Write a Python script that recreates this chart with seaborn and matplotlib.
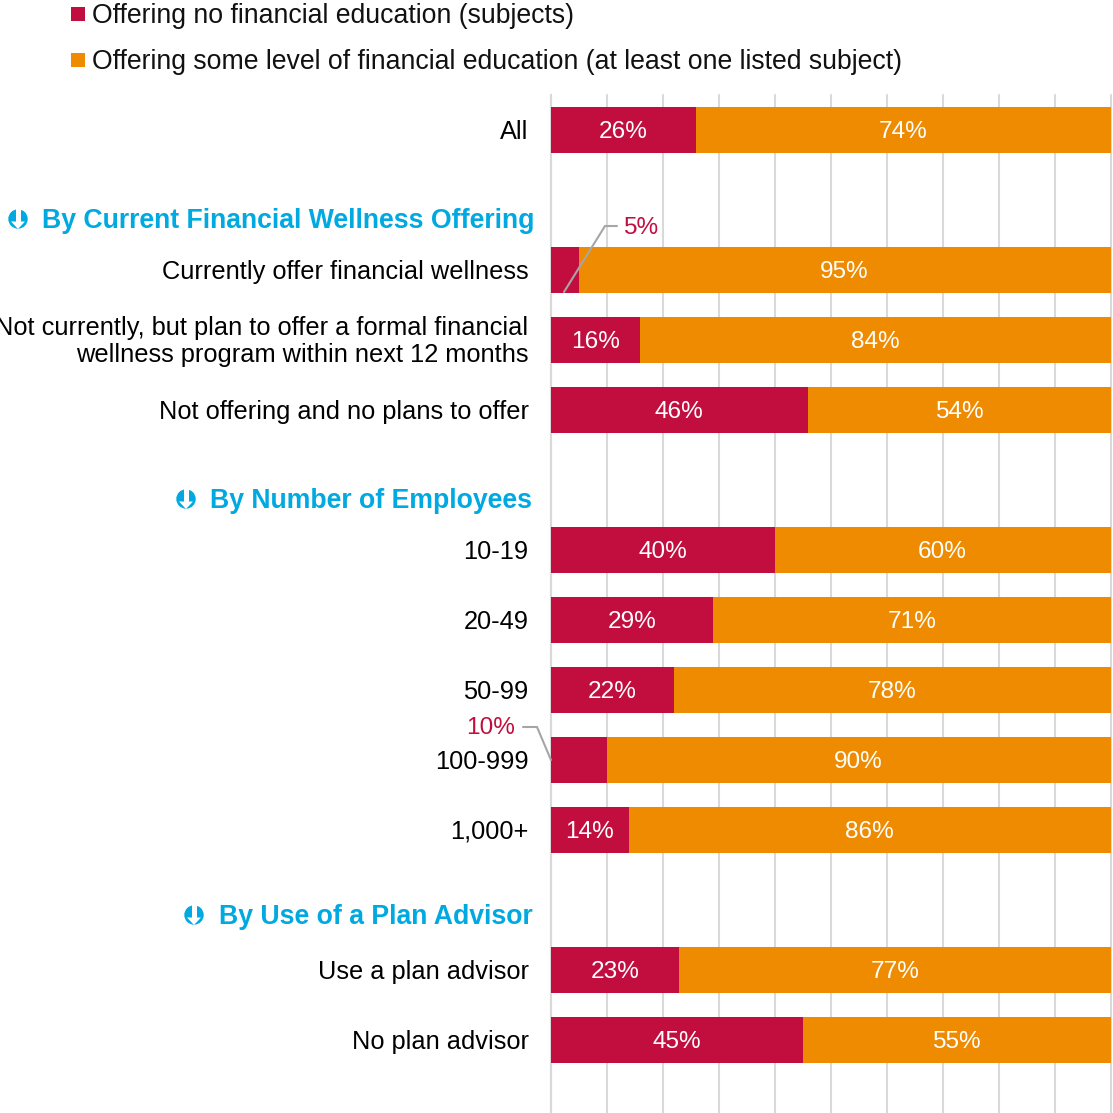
import matplotlib
matplotlib.use("Agg")
import matplotlib.pyplot as plt
from matplotlib.lines import Line2D
from matplotlib.patches import Circle, Polygon, Rectangle
from matplotlib.transforms import ScaledTranslation
import pandas as pd
import seaborn as sns

# Survey shares by employer group (percent)
groups = ["All", "Currently offer financial wellness",
          "Not currently, but plan to offer a formal financial\nwellness program within next 12 months",
          "Not offering and no plans to offer",
          "10-19", "20-49", "50-99", "100-999", "1,000+",
          "Use a plan advisor", "No plan advisor"]
no_education = [26, 5, 16, 46, 40, 29, 22, 10, 14, 23, 45]
some_education = [74, 95, 84, 54, 60, 71, 78, 90, 86, 77, 55]
series_names = ["Offering no financial education (subjects)",
                "Offering some level of financial education (at least one listed subject)"]
section_titles = ["By Current Financial Wellness Offering",
                  "By Number of Employees", "By Use of a Plan Advisor"]

RED = "#C20E3E"
ORANGE = "#EE8B00"
BLUE = "#00A9E0"
GRID = "#D9D9D9"
LEADER = "#A6A6A6"
FONT = "Liberation Sans"
LABEL_SIZE = 18.3
VALUE_SIZE = 17.6
TITLE_SIZE = 19.2

sns.set_theme(style="white")
plt.rcParams["font.family"] = [FONT, "DejaVu Sans"]
plt.rcParams["text.color"] = "#111111"

W = H = 1113
fig = plt.figure(figsize=(W / 100, H / 100), dpi=100, facecolor="white")
ax = fig.add_axes([550.5 / W, 0, 560 / W, (H - 95) / H])


def px(x, y):
    """Figure-pixel position measured from the top-left corner."""
    return x / W, 1 - y / H


# Category slots, with empty slots separating the sections
order = ["All", " ", groups[1], groups[2], groups[3], "  ",
         groups[4], groups[5], groups[6], groups[7], groups[8], "   ",
         groups[9], groups[10]]

df = pd.DataFrame({"group": groups, "none": no_education, "some": some_education})
df["total"] = df["none"] + df["some"]

sns.barplot(data=df, y="group", x="total", order=order, color=ORANGE, saturation=1,
            width=0.657, orient="h", ax=ax, linewidth=0, zorder=3)
sns.barplot(data=df, y="group", x="none", order=order, color=RED, saturation=1,
            width=0.657, orient="h", ax=ax, linewidth=0, zorder=3)

ax.set_xlim(0, 100)
ax.set_ylim(14.04, -0.5)
ax.set_xticks(range(0, 101, 10))
ax.set_xlabel("")
ax.set_ylabel("")
ax.tick_params(axis="x", length=0, labelbottom=False)
ax.tick_params(axis="y", length=0, pad=15.8, labelsize=LABEL_SIZE, labelcolor="black")
label_shift = ScaledTranslation(0, -1.5 / 100, fig.dpi_scale_trans)
for lbl in ax.get_yticklabels():
    lbl.set_va("center")
    lbl.set_linespacing(1.2)
    lbl.set_transform(lbl.get_transform() + label_shift)
ax.grid(axis="x", color=GRID, linewidth=1.5, zorder=0)
ax.grid(axis="y", visible=False)
ax.set_axisbelow(True)
for side in ["top", "right", "bottom"]:
    ax.spines[side].set_visible(False)
ax.spines["left"].set_color(GRID)
ax.spines["left"].set_linewidth(1.5)
ax.spines["left"].set_zorder(1)
for gl in ax.get_xgridlines():
    gl.set_clip_on(False)

# Value labels inside the bars; the two thin segments get leader lines instead
nudge = 1.5 / 70
for _, row in df.iterrows():
    slot = order.index(row["group"])
    if row["none"] > 10:
        ax.text(row["none"] / 2, slot + nudge, f"{row['none']}%", color="white", ha="center",
                va="center", fontsize=VALUE_SIZE, zorder=5)
    ax.text(row["none"] + row["some"] / 2, slot + nudge, f"{row['some']}%", color="white",
            ha="center", va="center", fontsize=VALUE_SIZE, zorder=5)

leader_kw = dict(color=LEADER, linewidth=1.5, transform=fig.transFigure, clip_on=False,
                 zorder=6, solid_joinstyle="miter")
pts = [px(564, 292), px(605, 226), px(617, 226)]
fig.add_artist(Line2D(*zip(*pts), **leader_kw))
fig.text(*px(641, 227.5), f"{no_education[1]}%", color=RED, ha="center", va="center",
         fontsize=VALUE_SIZE, zorder=6)
pts = [px(523, 727), px(537, 727), px(551, 760)]
fig.add_artist(Line2D(*zip(*pts), **leader_kw))
fig.text(*px(491, 728.5), f"{no_education[7]}%", color=RED, ha="center", va="center",
         fontsize=VALUE_SIZE, zorder=6)


def section_icon(cx, cy, r=9.7):
    """Round blue badge with a white downward arrow."""
    fig_tf = fig.dpi_scale_trans

    def inch(x, y):
        return x / 100, (H - y) / 100

    fig.add_artist(Circle(inch(cx, cy), r / 100, facecolor=BLUE, edgecolor="none",
                          transform=fig_tf))
    fig.add_artist(Rectangle(inch(cx - 2.5, cy + 3), 5 / 100, 14 / 100, facecolor="white",
                             edgecolor="none", transform=fig_tf))
    fig.add_artist(Polygon([inch(cx - 7, cy + 2.5), inch(cx + 7, cy + 2.5), inch(cx, cy + 10)],
                           facecolor="white", edgecolor="none", transform=fig_tf))


# Section headers with their badges
header_rows = [(535, 220, 18), (532, 500, 186), (533, 916, 194)]
for title, (right, y, icon_x) in zip(section_titles, header_rows):
    fig.text(*px(right, y + 1.5), title, color=BLUE, fontweight="bold", ha="right", va="center",
             fontsize=TITLE_SIZE)
    section_icon(icon_x, y - 1)

# Legend at the top, one entry per line
handles = [Line2D([], [], linestyle="none", marker="s", markersize=10, color=c,
                  markeredgewidth=0) for c in (RED, ORANGE)]
fig.legend(handles, series_names, loc="upper left", bbox_to_anchor=px(65, 3),
           frameon=False, fontsize=TITLE_SIZE, labelspacing=0.76, handletextpad=0.0,
           handlelength=1.0, borderaxespad=0, borderpad=0)

fig.savefig("out.png", dpi=100)
